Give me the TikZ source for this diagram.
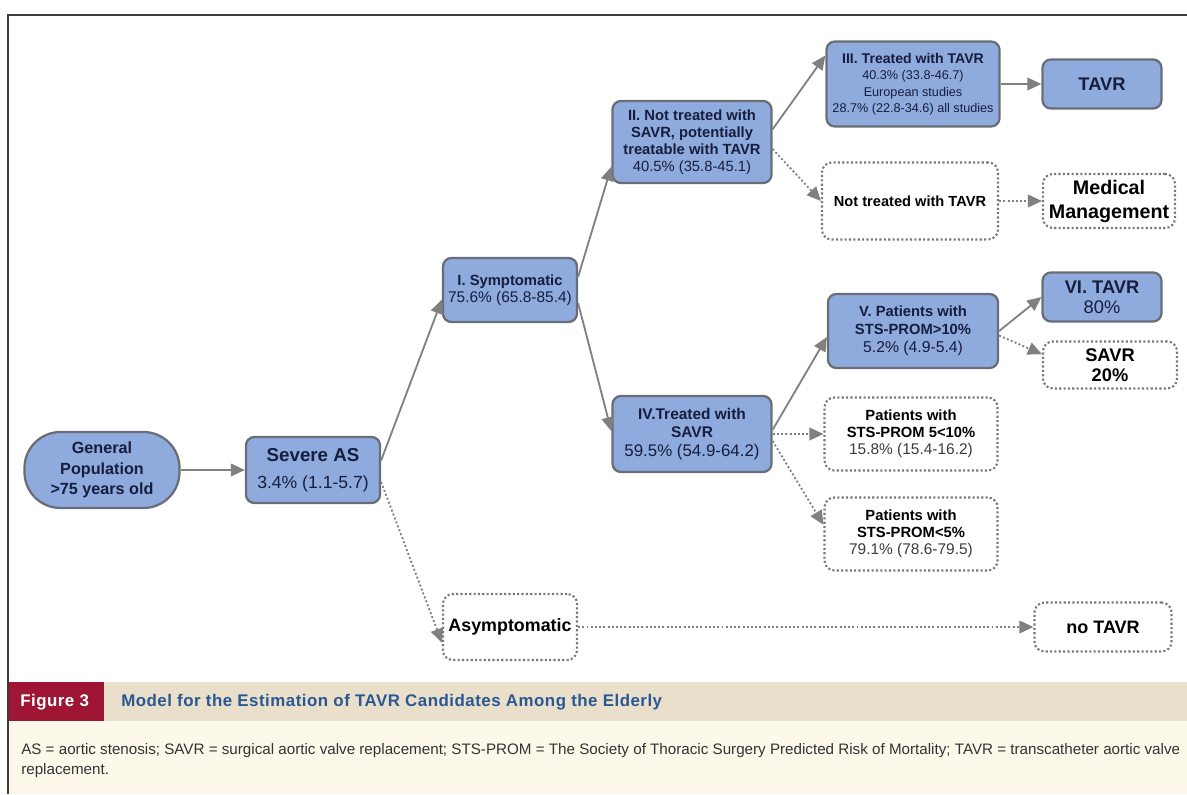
\documentclass[tikz,border=0pt]{standalone}
\usepackage{fontspec}
\setmainfont{Liberation Sans}
\newfontfamily\capfont[LetterSpace=3]{Liberation Sans}
\usetikzlibrary{arrows.meta}
\definecolor{boxblue}{RGB}{143,170,220}
\definecolor{boxline}{RGB}{105,110,118}
\definecolor{navytext}{RGB}{22,30,62}
\definecolor{linkgray}{RGB}{128,128,128}
\definecolor{dotgray}{RGB}{120,120,120}
\definecolor{numgray}{RGB}{60,60,60}
\definecolor{bandbeige}{RGB}{233,223,203}
\definecolor{figred}{RGB}{158,22,52}
\definecolor{notecream}{RGB}{253,249,234}
\definecolor{titleblue}{RGB}{42,88,146}
\definecolor{framegray}{RGB}{60,60,60}
\newcommand{\fsz}[2]{\fontsize{#1}{#2}\selectfont}
\newcommand{\numln}[2]{{\fontsize{#1}{#1}\selectfont\mdseries #2}}

\begin{document}
\begin{tikzpicture}[
    x=0.025cm, y=-0.025cm,
    blk/.style={draw=boxline, line width=1.6pt, fill=boxblue, rounded corners=6pt,
                align=center, text=navytext, inner sep=1pt},
    dotbox/.style={draw=dotgray, line width=1.5pt, dash pattern=on 1.5pt off 1.6pt,
                rounded corners=7pt, fill=white, align=center, inner sep=1pt},
    link/.style={draw=linkgray, line width=1.3pt, -{Triangle[length=10pt,width=9pt]}},
    dlink/.style={link, dash pattern=on 1.4pt off 1.6pt},
]
\useasboundingbox (0,0) rectangle (1187,794);

% caption band and frame
\fill[notecream] (8,721) rectangle (1187,794);
\fill[bandbeige] (8,682) rectangle (1187,721);
\fill[figred] (8,682) rectangle (104,721);
\draw[framegray, line width=1.4pt] (8,794) -- (8,15) -- (1187,15);
\node[anchor=west, inner sep=0pt, text=white, font=\capfont\fsz{12}{14}\bfseries] (fignum) at (20,702) {Figure 3};
\node[anchor=west, inner sep=0pt, text=titleblue, font=\capfont\fsz{12}{14}\bfseries] (figttl) at (121,702)
    {Model for the Estimation of TAVR Candidates Among the Elderly};
\node[anchor=north west, align=left, inner sep=0pt, text=black!80, font=\fsz{10.8}{14.5}] (note) at (21,743)
    {AS = aortic stenosis; SAVR = surgical aortic valve replacement; STS-PROM = The Society of Thoracic Surgery Predicted Risk of Mortality; TAVR = transcatheter aortic valve\\replacement.};

% blue boxes
\node[blk, rounded corners=0.9cm, minimum width=3.875cm, minimum height=1.9cm, font=\fsz{11.5}{14.5}\bfseries] (gp) at (102,470)
    {General\\Population\\>75 years old};
\node[blk, minimum width=3.35cm, minimum height=1.65cm, font=\fsz{13.3}{16}\bfseries] (sev) at (313,470)
    {Severe AS\\[3pt]\numln{12.5}{3.4\% (1.1-5.7)}};
\node[blk, minimum width=3.35cm, minimum height=1.6cm, font=\fsz{10.5}{12}\bfseries] (sym) at (510,290)
    {I. Symptomatic\\\numln{11}{75.6\% (65.8-85.4)}};
\node[blk, minimum width=3.975cm, minimum height=2.05cm, font=\fsz{10.5}{12}\bfseries] (nsavr) at (692,142)
    {II. Not treated with\\SAVR, potentially\\treatable with TAVR\\\numln{10.5}{40.5\% (35.8-45.1)}};
\node[blk, minimum width=4.325cm, minimum height=2.125cm, font=\fsz{10}{11.7}\bfseries] (ttavr) at (913,84)
    {III. Treated with TAVR\\\numln{9}{40.3\% (33.8-46.7)}\\\numln{9}{European studies}\\\numln{9}{28.7\% (22.8-34.6) all studies}};
\node[blk, minimum width=2.975cm, minimum height=1.225cm, font=\fsz{13}{15}\bfseries] (tavr) at (1102,84)
    {TAVR};
\node[blk, minimum width=3.975cm, minimum height=1.9cm, font=\fsz{11}{13}\bfseries] (tsavr) at (692,434)
    {IV.Treated with\\SAVR\\\numln{12}{59.5\% (54.9-64.2)}};
\node[blk, minimum width=4.25cm, minimum height=1.85cm, font=\fsz{10.5}{12.8}\bfseries] (high) at (913,331)
    {V. Patients with\\STS-PROM>10\%\\\numln{11.2}{5.2\% (4.9-5.4)}};
\node[blk, minimum width=2.975cm, minimum height=1.225cm, font=\fsz{13}{14}\bfseries] (vitavr) at (1102,297)
    {VI. TAVR\\\numln{13}{80\%}};

% dotted boxes
\node[dotbox, minimum width=4.4cm, minimum height=1.925cm, font=\fsz{10.4}{12}\bfseries] (ntavr) at (910,201)
    {Not treated with TAVR};
\node[dotbox, minimum width=3.3cm, minimum height=1.35cm, font=\fsz{14}{17}\bfseries] (medm) at (1109,201)
    {Medical\\Management};
\node[dotbox, minimum width=3.35cm, minimum height=1.175cm, font=\fsz{13}{14}\bfseries] (savr) at (1110,365)
    {SAVR\\20\%};
\node[dotbox, minimum width=4.325cm, minimum height=1.825cm, font=\fsz{10.5}{12}\bfseries] (mid) at (911,434)
    {Patients with\\STS-PROM 5<10\%\\\numln{11}{\color{numgray}15.8\% (15.4-16.2)}};
\node[dotbox, minimum width=4.325cm, minimum height=1.825cm, font=\fsz{10.5}{12}\bfseries] (low) at (911,534)
    {Patients with\\STS-PROM<5\%\\\numln{11}{\color{numgray}79.1\% (78.6-79.5)}};
\node[dotbox, minimum width=3.35cm, minimum height=1.65cm, font=\fsz{12.7}{14}\bfseries] (asym) at (510,627)
    {Asymptomatic};
\node[dotbox, minimum width=3.425cm, minimum height=1.225cm, font=\fsz{12.8}{14}\bfseries] (notavr) at (1103,627)
    {no TAVR};

% connectors
\draw[link] (gp.east) -- (sev.west);
\draw[link] (sev.8) -- (sym.188);
\draw[dlink] (sev.-10) -- (asym.193);
\draw[link] (sym.11) -- (nsavr.197);
\draw[link] (sym.-11) -- (tsavr.178);
\draw[link] (nsavr.9) -- (ttavr.162);
\draw[dlink] (nsavr.-5) -- (ntavr.west);
\draw[link] (ttavr.east) -- (tavr.west);
\draw[dlink] (ntavr.east) -- (medm.west);
\draw[link] (tsavr.3) -- (high.184);
\draw[dlink] (tsavr.east) -- (mid.west);
\draw[dlink] (tsavr.-5) -- (low.174);
\draw[link] (high.east) -- (vitavr.west);
\draw[dlink] (high.-3) -- (savr.171);
\draw[dlink] (asym.east) -- (notavr.west);
\end{tikzpicture}
\end{document}
